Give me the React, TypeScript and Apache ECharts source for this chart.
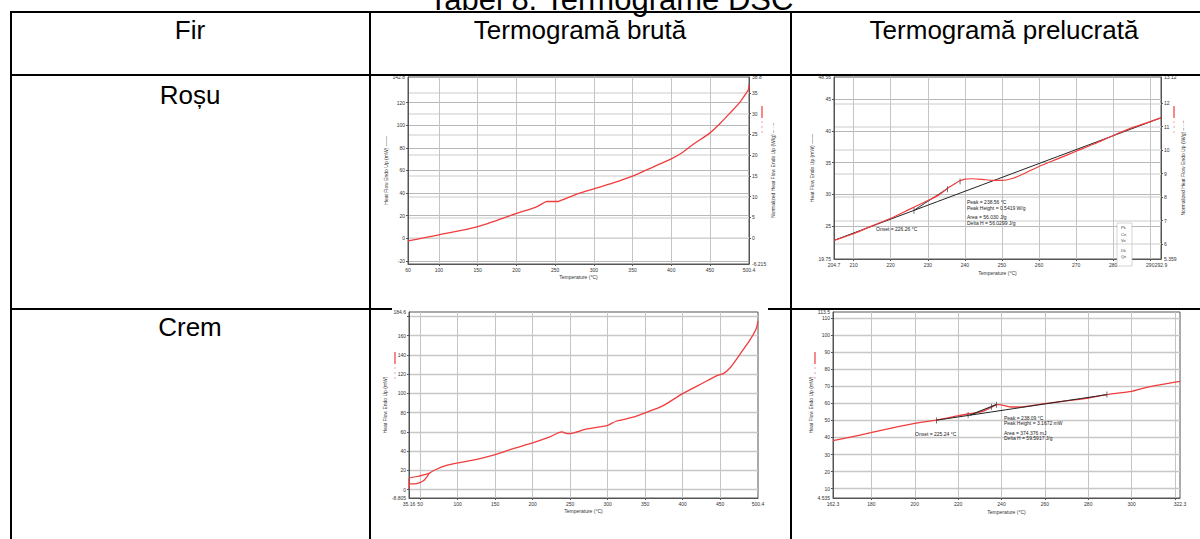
import React, { useEffect, useRef } from 'react';
import * as echarts from 'echarts';

// ---------- table texts ----------
const titleText = 'Tabel 8. Termograme DSC';
const headerCols = ['Fir', 'Termogramă brută', 'Termogramă prelucrată'];
const rowNames = ['Roșu', 'Crem'];

// ---------- chart 1 : Roșu, raw thermogram ----------
const rosuRawTemp = [60, 80, 100, 125, 150, 175, 200, 226, 238.4, 240, 252, 254.3, 269, 278, 300, 325, 350, 377, 400, 415, 428, 450, 463, 476, 489, 497, 499.6, 500.4];
const rosuRawHF = [-2.4, 0.2, 3.0, 6.4, 10.3, 15.8, 21.9, 27.8, 32.4, 32.5, 32.5, 32.7, 36.6, 39.0, 43.7, 49.0, 55.0, 63.2, 70.3, 76.2, 83.0, 93.3, 101.6, 111.0, 120.8, 128.8, 131.5, 136];
const rosuRawXRange = [60, 500.4];
const rosuRawXTicks = [100, 150, 200, 250, 300, 350, 400, 450];
const rosuRawXLabels = [60, 100, 150, 200, 250, 300, 350, 400, 450, 500.4];
const rosuRawYRange = [-22.87, 142.8];
const rosuRawYTicks = [-20, 0, 20, 40, 60, 80, 100, 120];
const rosuRawYLabels = [-20, 0, 20, 40, 60, 80, 100, 120, 142.8];
const rosuRawY2Range = [-6.215, 38.8];
const rosuRawY2Ticks = [0, 5, 10, 15, 20, 25, 30, 35];
const rosuRawY2Labels = [-6.215, 0, 5, 10, 15, 20, 25, 30, 35, 38.8];

// ---------- chart 2 : Roșu, processed thermogram ----------
const rosuProcTemp = [204.7, 210, 215, 220, 225, 230, 233, 235.7, 237.5, 238.5, 240, 242, 244.7, 247.4, 250, 252.8, 255, 260, 265, 270, 275, 280, 285, 292.9];
const rosuProcHF = [22.7, 23.75, 25.0, 26.2, 27.6, 29.0, 29.9, 31.1, 31.75, 32.1, 32.4, 32.45, 32.35, 32.2, 32.2, 32.5, 33.0, 34.4, 35.6, 36.8, 38.0, 39.3, 40.5, 42.1];
const rosuBaseTemp = [204.7, 292.9];
const rosuBaseHF = [22.7, 42.1];
const rosuTangentTemp = [226.26, 235.3];
const rosuTangentHF = [27.45, 30.9];
const rosuMarkTemp = [226.26, 235.3, 238.7];
const rosuMarkHF = [27.4, 30.8, 32.0];
const rosuProcXRange = [204.7, 292.9];
const rosuProcXTicks = [210, 220, 230, 240, 250, 260, 270, 280, 290];
const rosuProcXLabels = [204.7, 210, 220, 230, 240, 250, 260, 270, 280, 290, 292.9];
const rosuProcYRange = [19.75, 48.56];
const rosuProcYTicks = [25, 30, 35, 40, 45];
const rosuProcYLabels = [19.75, 25, 30, 35, 40, 45, 48.56];
const rosuProcY2Range = [5.359, 13.12];
const rosuProcY2Ticks = [6, 7, 8, 9, 10, 11, 12];
const rosuProcY2Labels = [5.359, 6, 7, 8, 9, 10, 11, 12, 13.12];
const rosuAnnot = ['Peak = 238.56 °C', 'Peak Height = 0.5419 W/g', 'Area = 56.030 J/g', 'Delta H = 56.0299 J/g'];
const rosuOnset = 'Onset = 226.26 °C';
const rosuBoxItems = ['Pk', 'Cn', 'Ve', 'Dk', 'Qn'];

// ---------- chart 3 : Crem, raw thermogram ----------
const cremStartUpperTemp = [35.2, 35.2, 48.7, 62];
const cremStartUpperHF = [5.5, 11.4, 13.9, 16.8];
const cremRawTemp = [35.2, 35.3, 36.5, 42, 48.7, 55.3, 59.8, 62, 71, 84, 100, 124, 150, 173, 200, 222, 239, 244.5, 250, 271, 300, 311, 334, 350, 374, 400, 427, 445, 454, 463, 476, 489, 498, 500.4];
const cremRawHF = [0.5, 5.5, 5.9, 5.9, 6.9, 9.7, 13.9, 16.8, 20.8, 24.9, 27.7, 31.2, 36.4, 42.3, 48.5, 54.4, 59.9, 58.5, 58.2, 62.7, 66.8, 71.0, 75.2, 79.7, 87.3, 99.7, 110.8, 118.1, 120.5, 126.4, 140.3, 154.8, 167.3, 175];
const cremRawXRange = [35.16, 500.4];
const cremRawXTicks = [50, 100, 150, 200, 250, 300, 350, 400, 450];
const cremRawXLabels = [35.16, 50, 100, 150, 200, 250, 300, 350, 400, 450, 500.4];
const cremRawYRange = [-8.805, 184.6];
const cremRawYTicks = [0, 20, 40, 60, 80, 100, 120, 140, 160, 180];
const cremRawYLabels = [-8.805, 0, 20, 40, 60, 80, 100, 120, 140, 160, 184.6];

// ---------- chart 4 : Crem, processed thermogram ----------
const cremProcTemp = [162.3, 170.8, 179.7, 189.2, 200, 210, 219.7, 224.6, 229, 232.3, 235.4, 237.7, 239.2, 241.5, 244.6, 247.7, 252.3, 260, 270.8, 280, 288.6, 300, 304.6, 310.8, 316.9, 322.3];
const cremProcHF = [38.1, 40.3, 42.8, 45.5, 48.3, 50.2, 52.6, 53.75, 54.6, 55.7, 57.7, 59.2, 59.2, 58.6, 57.85, 57.85, 58.4, 59.8, 61.6, 63.1, 65.1, 67.0, 68.6, 70.4, 71.7, 72.9];
const cremBaseTemp = [210, 288.6];
const cremBaseHF = [50.1, 65.1];
const cremTangentTemp = [225.24, 237.7];
const cremTangentHF = [53.0, 59.3];
const cremMarkTemp = [210, 224.6, 235.4, 237.7, 288.6];
const cremMarkHF = [50.0, 53.1, 58.0, 59.2, 65.1];
const cremProcXRange = [162.3, 322.3];
const cremProcXTicks = [180, 200, 220, 240, 260, 280, 300, 320];
const cremProcXLabels = [162.3, 180, 200, 220, 240, 260, 280, 300, 322.3];
const cremProcYRange = [4.535, 113.5];
const cremProcYTicks = [10, 20, 30, 40, 50, 60, 70, 80, 90, 100, 110];
const cremProcYLabels = [4.535, 10, 20, 30, 40, 50, 60, 70, 80, 90, 100, 110, 113.5];
const cremAnnot = ['Peak = 238.09 °C', 'Peak Height = 3.1672 mW', 'Area = 374.376 mJ', 'Delta H = 59.5917 J/g'];
const cremOnset = 'Onset = 225.24 °C';

const xTitle = 'Temperature (°C)';
const yTitle = 'Heat Flow Endo Up (mW) ——';
const y2Title = 'Normalized Heat Flow Endo Up (W/g) – · –';

const RED = '#f03c3c';
const FONT = "'Liberation Sans', Arial, sans-serif";
const SMALL = 5;

const zip = (a: number[], b: number[]) => a.map((v, i) => [v, b[i]]);
const fmt = (v: number) => String(v);

function xAxisCfg(gridIndex: number, range: number[], ticks: number[], labels: number[], nameGap: number) {
  return {
    type: 'value', gridIndex, min: range[0], max: range[1],
    name: xTitle, nameLocation: 'middle', nameGap,
    nameTextStyle: { fontSize: SMALL, color: '#333', fontFamily: FONT },
    axisLine: { show: true, onZero: false, lineStyle: { color: '#555', width: 1 } },
    axisTick: { show: true, length: 2, customValues: ticks, lineStyle: { color: '#555' } },
    axisLabel: { show: true, customValues: labels, fontSize: SMALL, color: '#333', margin: 3, fontFamily: FONT, formatter: fmt },
    splitLine: { show: true, lineStyle: { color: '#c4c4c4', width: 1 } },
  };
}

function yAxisCfg(gridIndex: number, range: number[], ticks: number[], labels: number[], name: string, nameGap: number, position: string, lineColor: string, lineWidth: number) {
  return {
    type: 'value', gridIndex, min: range[0], max: range[1], position,
    name, nameLocation: 'middle', nameGap, nameRotate: 90,
    nameTextStyle: { fontSize: SMALL, color: '#333', fontFamily: FONT },
    axisLine: { show: true, onZero: false, lineStyle: { color: '#555', width: 1 } },
    axisTick: { show: true, length: 2, customValues: ticks, lineStyle: { color: '#555' } },
    axisLabel: { show: true, customValues: labels, fontSize: SMALL, color: '#333', margin: 3, fontFamily: FONT, formatter: fmt },
    splitLine: { show: true, lineStyle: { color: lineColor, width: lineWidth } },
  };
}

function lineSeries(xi: number, yi: number, data: number[][], color: string, width: number, z = 3) {
  return {
    type: 'line', xAxisIndex: xi, yAxisIndex: yi, data, showSymbol: false, symbol: 'none',
    smooth: 0.25, lineStyle: { color, width }, z, silent: true,
  };
}

function markSeries(xi: number, yi: number, data: number[][]) {
  return {
    type: 'scatter', xAxisIndex: xi, yAxisIndex: yi, data, symbol: 'rect', symbolSize: [0.9, 6],
    itemStyle: { color: '#444' }, z: 5, silent: true,
  };
}

function txt(x: number, y: number, text: string, size: number, align = 'left', fill = '#222') {
  return {
    type: 'text', x, y, z: 50,
    style: { text, x: 0, y: 0, fontSize: size, fontFamily: FONT, fill, align, textAlign: align, verticalAlign: 'middle', textVerticalAlign: 'middle' },
  };
}

function hline(x1: number, x2: number, y: number, w = 2) {
  return { type: 'line', z: 40, shape: { x1, y1: y, x2, y2: y }, style: { stroke: '#000', lineWidth: w } };
}
function vline(x: number, y1: number, y2: number, w = 2) {
  return { type: 'line', z: 40, shape: { x1: x, y1, x2: x, y2 }, style: { stroke: '#000', lineWidth: w } };
}
function legendMark(x: number, y: number) {
  return [
    { type: 'line', z: 45, shape: { x1: x, y1: y, x2: x, y2: y + 12 }, style: { stroke: RED, lineWidth: 1.2 } },
    { type: 'line', z: 45, shape: { x1: x, y1: y + 15, x2: x, y2: y + 27 }, style: { stroke: '#f4a0a0', lineWidth: 1, lineDash: [2, 3] } },
  ];
}

function buildOption() {
  const graphics: any[] = [
    // table frame
    hline(11, 1200, 12),
    hline(11, 1200, 75),
    hline(11, 392, 309),
    hline(768, 1200, 309),
    vline(11, 11, 539),
    vline(370, 11, 539),
    vline(791, 11, 539),
    // title & header
    txt(611, -1, titleText, 31, 'center', '#000'),
    txt(190, 30, headerCols[0], 26, 'center', '#000'),
    txt(580, 30, headerCols[1], 26, 'center', '#000'),
    txt(1004, 30, headerCols[2], 26, 'center', '#000'),
    txt(190, 95, rowNames[0], 26, 'center', '#000'),
    txt(190, 327, rowNames[1], 26, 'center', '#000'),
    // annotations chart 2
    ...rosuAnnot.map((t, i) => txt(967, [202.3, 207.7, 217, 222.7][i], t, SMALL)),
    txt(876, 229.3, rosuOnset, SMALL),
    // annotations chart 4
    ...cremAnnot.map((t, i) => txt(1004, [418.3, 423.3, 432.7, 438.3][i], t, SMALL)),
    txt(915, 434.3, cremOnset, SMALL),
    // legend marks
    ...legendMark(762, 106),
    ...legendMark(1174, 106),
    ...legendMark(395, 352),
    ...legendMark(815, 352),
    // small legend box chart 2
    { type: 'rect', z: 44, shape: { x: 1117, y: 223, width: 15, height: 43 }, style: { fill: '#fff', stroke: '#bbb', lineWidth: 0.6 } },
    { type: 'line', z: 45, shape: { x1: 1117, y1: 244, x2: 1132, y2: 244 }, style: { stroke: '#bbb', lineWidth: 0.6 } },
    ...rosuBoxItems.map((t, i) => txt(1121, [227, 234, 240, 250, 256][i], t, 4, 'left', '#444')),
  ];

  return {
    animation: false,
    backgroundColor: '#fff',
    textStyle: { fontFamily: FONT },
    grid: [
      { left: 408, top: 77, width: 341, height: 187, show: true, borderColor: '#555', borderWidth: 1, backgroundColor: 'transparent' },
      { left: 834, top: 77, width: 327, height: 182, show: true, borderColor: '#555', borderWidth: 1, backgroundColor: 'transparent' },
      { left: 409, top: 312, width: 349, height: 186, show: true, borderColor: '#555', borderWidth: 1, backgroundColor: 'transparent' },
      { left: 833, top: 312, width: 347, height: 186, show: true, borderColor: '#555', borderWidth: 1, backgroundColor: 'transparent' },
    ],
    xAxis: [
      xAxisCfg(0, rosuRawXRange, rosuRawXTicks, rosuRawXLabels, 10),
      xAxisCfg(1, rosuProcXRange, rosuProcXTicks, rosuProcXLabels, 11),
      xAxisCfg(2, cremRawXRange, cremRawXTicks, cremRawXLabels, 10),
      xAxisCfg(3, cremProcXRange, cremProcXTicks, cremProcXLabels, 11),
    ],
    yAxis: [
      yAxisCfg(0, rosuRawYRange, rosuRawYTicks, rosuRawYLabels, yTitle, 13, 'left', '#b8b8b8', 1),
      yAxisCfg(0, rosuRawY2Range, rosuRawY2Ticks, rosuRawY2Labels, y2Title, 12, 'right', '#dcdcdc', 1.5),
      yAxisCfg(1, rosuProcYRange, rosuProcYTicks, rosuProcYLabels, yTitle, 12, 'left', '#b8b8b8', 1),
      yAxisCfg(1, rosuProcY2Range, rosuProcY2Ticks, rosuProcY2Labels, y2Title, 11, 'right', '#dcdcdc', 1.5),
      yAxisCfg(2, cremRawYRange, cremRawYTicks, cremRawYLabels, 'Heat Flow Endo Up (mW)', 14, 'left', '#c8c8c8', 1.3),
      yAxisCfg(3, cremProcYRange, cremProcYTicks, cremProcYLabels, 'Heat Flow Endo Up (mW)', 17, 'left', '#c8c8c8', 1.3),
    ],
    series: [
      lineSeries(0, 0, zip(rosuRawTemp, rosuRawHF), RED, 1.3),
      lineSeries(1, 2, zip(rosuBaseTemp, rosuBaseHF), '#222', 1, 2),
      lineSeries(1, 2, zip(rosuTangentTemp, rosuTangentHF), '#222', 1, 2),
      lineSeries(1, 2, zip(rosuProcTemp, rosuProcHF), RED, 1.2),
      markSeries(1, 2, zip(rosuMarkTemp, rosuMarkHF)),
      lineSeries(2, 4, zip(cremStartUpperTemp, cremStartUpperHF), RED, 1.2),
      lineSeries(2, 4, zip(cremRawTemp, cremRawHF), RED, 1.3),
      lineSeries(3, 5, zip(cremProcTemp, cremProcHF), RED, 1.3),
      lineSeries(3, 5, zip(cremBaseTemp, cremBaseHF), '#222', 1, 4),
      lineSeries(3, 5, zip(cremTangentTemp, cremTangentHF), '#222', 1.2, 4),
      markSeries(3, 5, zip(cremMarkTemp, cremMarkHF)),
    ],
    graphic: graphics,
  };
}

export default function App() {
  const ref = useRef<HTMLDivElement>(null);
  useEffect(() => {
    if (!ref.current) return;
    const chart = echarts.init(ref.current, undefined, { renderer: 'svg' });
    chart.setOption(buildOption() as any);
    return () => chart.dispose();
  }, []);
  return (
    <div
      ref={ref}
      style={{ position: 'absolute', left: 0, top: 0, width: 1200, height: 539, background: '#fff' }}
    />
  );
}
